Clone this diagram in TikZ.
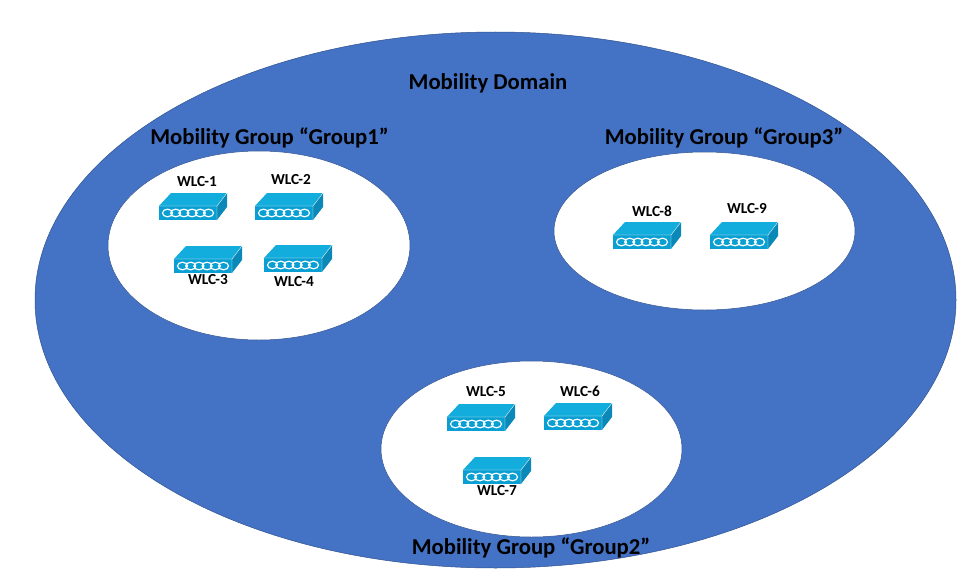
\documentclass[tikz,border=0pt]{standalone}
\usepackage{fontspec}
\setmainfont{Carlito}
\usetikzlibrary{shapes.geometric}
\definecolor{domainblue}{HTML}{4472C4}
\definecolor{domainedge}{HTML}{2F528F}
\definecolor{wlcfront}{HTML}{0A9FD2}
\definecolor{wlctop}{HTML}{12ADDC}
\definecolor{wlcside}{HTML}{0A88B8}
\tikzset{
  x=1pt,y=-1pt,
  zone/.style={ellipse,draw=domainedge,line width=0.5pt,inner sep=0pt,outer sep=0pt},
  title/.style={font=\bfseries\fontsize{22.7}{24}\selectfont,text=black,inner sep=0pt},
  wlabel/.style={font=\bfseries\fontsize{15.3}{17}\selectfont,text=black,inner sep=0pt},
  pics/wlc/.style={code={
    \fill[wlctop] (0,0) -- (12,-13) -- (68,-13) -- (58,0) -- cycle;
    \fill[wlcside] (58,0) -- (68,-13) -- (68,1) -- (58,14) -- cycle;
    \fill[wlcfront] (0,0) rectangle (58,14);
    \draw[white,line width=0.3pt] (0,0) -- (58,0) -- (68,-13) (58,0) -- (58,14);
    \foreach \i in {0,1,2,3,4,5}{
      \draw[white,line width=1.2pt] (8.5+\i*8.2,7) ellipse [x radius=5,y radius=3.8];
    }
  }}
}
\begin{document}
\begin{tikzpicture}
\useasboundingbox (0,0) rectangle (975,586);
\fill[white] (0,0) rectangle (975,586);
\node[zone,fill=domainblue,minimum width=921pt,minimum height=536pt] (domain) at (495.5,300) {};
\node[zone,fill=white,minimum width=302pt,minimum height=189pt] (g1) at (259,245.5) {};
\node[zone,fill=white,minimum width=301pt,minimum height=158pt] (g3) at (704.5,231) {};
\node[zone,fill=white,minimum width=301pt,minimum height=176pt] (g2) at (531.5,449) {};
\node[title] (tdomain) at (488,83.5) {Mobility Domain};
\node[title] (tg1) at (269.5,137.5) {Mobility Group “Group1”};
\node[title] (tg3) at (724,137.5) {Mobility Group “Group3”};
\node[title] (tg2) at (531,547.5) {Mobility Group “Group2”};
\pic at (159,206) {wlc};
\pic at (255,206) {wlc};
\pic at (174,259) {wlc};
\pic at (264,258) {wlc};
\pic at (613,235) {wlc};
\pic at (710,235) {wlc};
\pic at (447,417) {wlc};
\pic at (544,416) {wlc};
\pic at (463,470) {wlc};
\node[wlabel] (w1) at (197,182) {WLC-1};
\node[wlabel] (w2) at (291,180) {WLC-2};
\node[wlabel] (w3) at (208,280) {WLC-3};
\node[wlabel] (w4) at (294,282) {WLC-4};
\node[wlabel] (w8) at (652,211) {WLC-8};
\node[wlabel] (w9) at (747,209) {WLC-9};
\node[wlabel] (w5) at (486,392) {WLC-5};
\node[wlabel] (w6) at (580,391) {WLC-6};
\node[wlabel] (w7) at (497,491) {WLC-7};
\end{tikzpicture}
\end{document}
